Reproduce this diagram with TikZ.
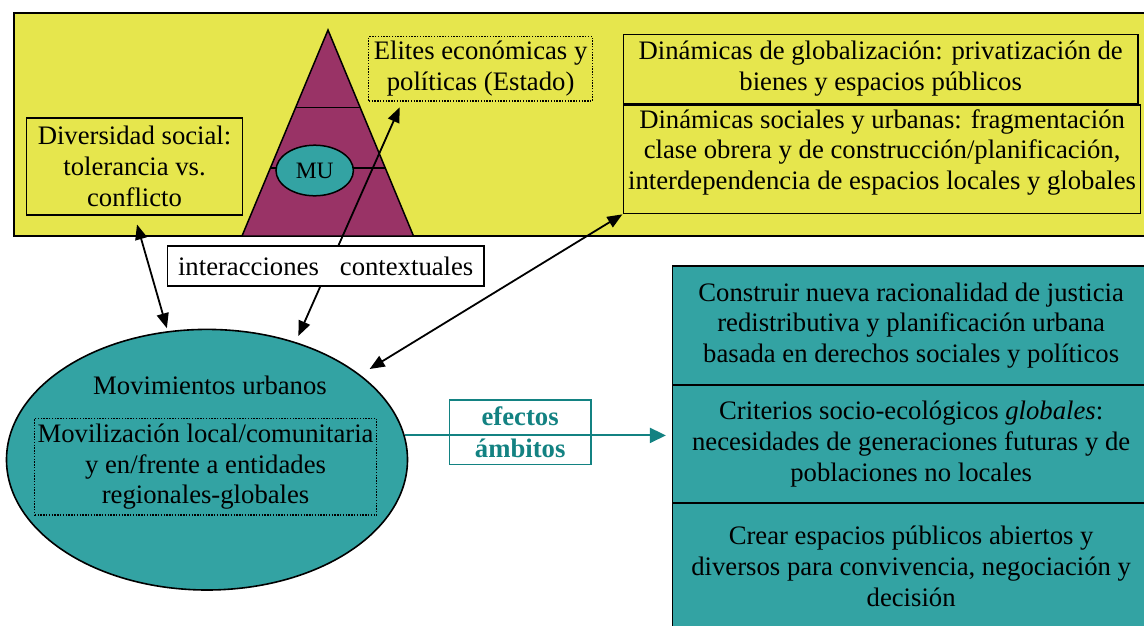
\documentclass[tikz,border=0pt]{standalone}
\usepackage{fontspec}
\setmainfont{Liberation Serif}
\usetikzlibrary{arrows.meta,shapes.geometric}
\definecolor{yel}{RGB}{230,230,77}
\definecolor{mag}{RGB}{153,51,102}
\definecolor{tealf}{RGB}{51,163,163}
\definecolor{teald}{RGB}{19,130,130}
\begin{document}
\begin{tikzpicture}[x=1pt,y=-1pt,
  txt/.style={font=\fontsize{26.7}{30.8}\selectfont, align=center, inner sep=0pt},
  box/.style={draw, line width=1.6pt, inner sep=0pt, txt},
  dotbox/.style={draw, line width=1.3pt, dash pattern=on 1.4pt off 1.4pt, inner sep=0pt, txt},
  arr/.style={{Triangle[length=15pt,width=12pt]}-{Triangle[length=15pt,width=12pt]}, line width=1.8pt},
  tarr/.style={-{Triangle[length=16pt,width=15pt]}, line width=2pt, teald}]
\useasboundingbox (0,0) rectangle (1144,625);
% yellow band
\draw[fill=yel, line width=1.6pt] (14,13) rectangle (1152,236);
% pyramid
\draw[fill=mag, line width=1.5pt] (328,30) -- (413.5,236) -- (242,236) -- cycle;
\draw[line width=1.5pt] (295.6,107.7) -- (360.4,107.7);
\draw[line width=1.5pt] (270.4,168) -- (385.6,168);
\node[ellipse, draw, fill=tealf, line width=1.5pt, minimum width=77.4pt, minimum height=50.6pt, inner sep=0pt,
  font=\fontsize{23.5}{26}\selectfont] (mu) at (314.7,170.5) {MU};
% boxes in band
\node[dotbox, minimum width=223.6pt, minimum height=64.3pt] (eli) at (480.6,68.85)
  {Elites económicas y\\políticas (Estado)};
\node[box, minimum width=216.1pt, minimum height=97pt] (div) at (134.55,166.5)
  {Diversidad social:\\tolerancia vs.\\conflicto};
\node[box, minimum width=514.2pt, minimum height=69pt] (glob) at (880.7,68.8)
  {Dinámicas de globalización: privatización de\\bienes y espacios públicos};
\node[box, minimum width=517pt, minimum height=108.6pt] (soc) at (882.1,159) {};
\node[txt] at ([yshift=6.7pt]soc.center)
  {Dinámicas sociales y urbanas: fragmentación\\clase obrera y de construcción/planificación,\\interdependencia de espacios locales y globales};
% movements ellipse
\node[ellipse, draw, fill=tealf, line width=1.6pt, minimum width=401pt, minimum height=260.6pt, inner sep=0pt] (mov) at (207,459.7) {};
\node[txt] (movt) at (210,385) {Movimientos urbanos};
\node[dotbox, minimum width=341.7pt, minimum height=96.7pt] (movl) at (205.55,466.65)
  {Movilización local/comunitaria\\y en/frente a entidades\\regionales-globales};
% right boxes
\node[box, fill=tealf, minimum width=477.7pt, minimum height=119pt] (r1) at (911.15,325.5)
  {Construir nueva racionalidad de justicia\\redistributiva y planificación urbana\\basada en derechos sociales y políticos};
\node[box, fill=tealf, minimum width=477.7pt, minimum height=117.7pt] (r2) at (911.15,443.85)
  {Criterios socio-ecológicos \textit{globales}:\\necesidades de generaciones futuras y de\\poblaciones no locales};
\node[box, fill=tealf, minimum width=477.7pt, minimum height=127.3pt] (r3) at (911.15,566.35)
  {Crear espacios públicos abiertos y\\diversos para convivencia, negociación y\\decisión};
% black arrows
\coordinate (a2) at (399.7,107.3);
\draw[arr, shorten <=3pt, shorten >=9pt] (mov.107) -- (div.south);
\draw[arr, shorten <=6.6pt] (mov.53.07) -- (a2);
\draw[arr, shorten <=11pt, shorten >=0.5pt] (mov.29.5) -- (soc.south west);
% interactions label on top
\node[box, fill=white, minimum width=316.6pt, minimum height=40pt] (int) at (325.7,266)
  {interacciones\hspace{21pt}contextuales};
% teal arrow
\draw[tarr, shorten >=5.6pt] (mov.7.15) -- (mov.7.15 -| r2.west);
\node[draw=teald, line width=1.6pt, minimum width=141.7pt, minimum height=64.3pt, inner sep=0pt,
  txt, text=teald, font=\fontsize{26.7}{31.7}\selectfont\bfseries] (efe) at (520.15,432.15)
  {efectos\\ámbitos};
\end{tikzpicture}
\end{document}
